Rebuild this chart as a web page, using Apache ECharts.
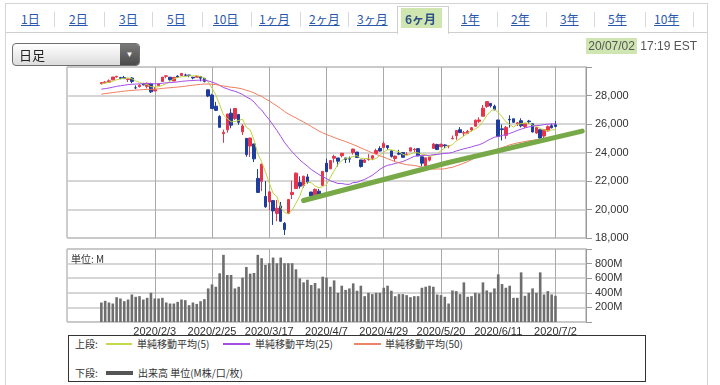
<!DOCTYPE html>
<html><head><meta charset="utf-8">
<script src="https://cdn.jsdelivr.net/npm/echarts@6/dist/echarts.min.js"></script>
<style>
html,body{margin:0;padding:0;background:#fff;}
body{width:720px;height:385px;position:relative;overflow:hidden;font-family:"Liberation Sans",Arial,"Noto Sans CJK JP",sans-serif;}
#chart{position:absolute;left:0;top:0;width:720px;height:385px;z-index:1;}
.ov{position:absolute;z-index:2;}
#outer{position:absolute;left:5px;top:3px;width:701px;height:400px;border:1px solid #d4d4d4;z-index:0;}
#tabline{position:absolute;left:5px;top:32px;width:702px;height:0;border-top:1px solid #cfcfcf;z-index:0;}
.tab{position:absolute;top:11px;line-height:16px;font-size:12px;color:#2858ad;text-decoration:underline;font-family:"Noto Sans CJK JP",sans-serif;white-space:nowrap;}
.sep{position:absolute;top:12px;width:0;height:15px;border-left:1px solid #d8d8d8;}
#sel{position:absolute;left:397px;top:6px;width:50px;height:27px;background:#fff;border:1px solid #d0d0d0;border-bottom:none;z-index:1;}
#selhl{position:absolute;left:401px;top:8px;width:41px;height:20px;background:#cfe6b0;z-index:1;}
#dd{position:absolute;left:12px;top:43px;width:126px;height:21px;border:1px solid #6f6f6f;border-radius:4px;background:linear-gradient(#ffffff,#dcdcdc);overflow:hidden;z-index:2;}
#ddtxt{position:absolute;left:6px;top:0;line-height:21px;font-size:13px;color:#222;font-family:"Noto Sans CJK JP",sans-serif;}
#ddbtn{position:absolute;right:0;top:0;width:19px;height:21px;background:linear-gradient(#7a7a7a,#4a4a4a);color:#fff;font-size:8px;line-height:21px;text-align:center;}
#date{position:absolute;right:23px;top:38px;font-size:12px;color:#555;line-height:16px;white-space:nowrap;z-index:2;}
#date span{background:#cfe6b2;padding:1px 2px;}
#unit{position:absolute;left:71px;top:251px;font-size:10px;color:#333;font-family:"Noto Sans CJK JP",sans-serif;z-index:2;}
#legend{position:absolute;left:68px;top:335px;width:576px;height:45px;border:1px solid #333;background:#fff;z-index:2;font-family:"Noto Sans CJK JP",sans-serif;font-size:10px;color:#333;}
.lt{position:absolute;line-height:14px;white-space:nowrap;}
.ll{position:absolute;height:2px;}
</style></head>
<body>
<div id="outer"></div>
<div id="tabline"></div>
<div id="sel"></div>
<div id="selhl"></div>
<div id="tabs"></div>
<div id="dd"><div id="ddtxt">日足</div><div id="ddbtn">▼</div></div>
<div id="date"><span>20/07/02</span> 17:19 EST</div>
<div id="chart"></div>
<div id="unit">単位: M</div>
<div id="legend">
  <span class="lt" style="left:6px;top:1px">上段:</span>
  <span class="ll" style="left:37px;top:7px;width:26px;background:#c6d84e"></span>
  <span class="lt" style="left:68px;top:1px">単純移動平均(5)</span>
  <span class="ll" style="left:154px;top:7px;width:27px;background:#a64de6"></span>
  <span class="lt" style="left:186px;top:1px">単純移動平均(25)</span>
  <span class="ll" style="left:285px;top:7px;width:27px;background:#ef8466"></span>
  <span class="lt" style="left:316px;top:1px">単純移動平均(50)</span>
  <span class="lt" style="left:6px;top:30px">下段:</span>
  <span class="ll" style="left:37px;top:35px;width:27px;height:4px;background:#555"></span>
  <span class="lt" style="left:69px;top:30px">出来高 単位(M株/口/枚)</span>
</div>
<script>
// ---------- data ----------
const tabNames = ['1日','2日','3日','5日','10日','1ヶ月','2ヶ月','3ヶ月','6ヶ月','1年','2年','3年','5年','10年'];
const dates = [
'2020/1/13','2020/1/14','2020/1/15','2020/1/16','2020/1/17','2020/1/21','2020/1/22','2020/1/23','2020/1/24','2020/1/27','2020/1/28','2020/1/29','2020/1/30','2020/1/31',
'2020/2/3','2020/2/4','2020/2/5','2020/2/6','2020/2/7','2020/2/10','2020/2/11','2020/2/12','2020/2/13','2020/2/14','2020/2/18','2020/2/19','2020/2/20','2020/2/21','2020/2/24','2020/2/25','2020/2/26','2020/2/27','2020/2/28',
'2020/3/2','2020/3/3','2020/3/4','2020/3/5','2020/3/6','2020/3/9','2020/3/10','2020/3/11','2020/3/12','2020/3/13','2020/3/16','2020/3/17','2020/3/18','2020/3/19','2020/3/20','2020/3/23','2020/3/24','2020/3/25','2020/3/26','2020/3/27','2020/3/30','2020/3/31',
'2020/4/1','2020/4/2','2020/4/3','2020/4/6','2020/4/7','2020/4/8','2020/4/9','2020/4/13','2020/4/14','2020/4/15','2020/4/16','2020/4/17','2020/4/20','2020/4/21','2020/4/22','2020/4/23','2020/4/24','2020/4/27','2020/4/28','2020/4/29','2020/4/30',
'2020/5/1','2020/5/4','2020/5/5','2020/5/6','2020/5/7','2020/5/8','2020/5/11','2020/5/12','2020/5/13','2020/5/14','2020/5/15','2020/5/18','2020/5/19','2020/5/20','2020/5/21','2020/5/22','2020/5/26','2020/5/27','2020/5/28','2020/5/29',
'2020/6/1','2020/6/2','2020/6/3','2020/6/4','2020/6/5','2020/6/8','2020/6/9','2020/6/10','2020/6/11','2020/6/12','2020/6/15','2020/6/16','2020/6/17','2020/6/18','2020/6/19','2020/6/22','2020/6/23','2020/6/24','2020/6/25','2020/6/26','2020/6/29','2020/6/30',
'2020/7/1','2020/7/2'];
const opens = [28823,28895,28930,29100,29313,29258,29263,29131,29229,28542,28619,28821,28641,28813,
28319,28696,28986,29346,29286,29019,29365,29406,29441,29440,29282,29280,29328,29203,28402,28029,27250,26536,25320,
25590,26762,26383,26671,25457,24992,24453,24604,22184,21974,20917,20528,20623,19726,20253,19028,19722,21051,21468,21898,21678,22287,
21227,20819,21285,21693,23250,22857,23603,23617,23773,23621,23557,23993,24032,23479,23307,23505,23593,23931,24280,24345,24484,
24120,23581,23943,24003,23863,24096,24195,24269,23701,23049,23464,24286,24553,24402,24530,24455,24960,25174,25599,25364,
25343,25586,25845,26185,26544,27232,27447,27251,26282,25659,25204,26326,26367,26014,26231,25816,26210,26018,25366,25601,25153,25513,
25880,25939];
const highs = [28909,29009,29128,29300,29374,29307,29374,29183,29289,28707,28788,28892,28900,28891,
28592,28833,29298,29408,29286,29277,29416,29569,29529,29441,29293,29405,29374,29203,28402,28118,27552,26616,25604,
26706,27084,27091,26671,25994,24992,25020,24604,22838,23186,21999,21300,20639,20668,20532,19122,20704,22020,22595,22327,22378,22481,
21227,21477,21447,22680,23564,23434,23847,23617,23968,23621,23714,24264,24032,23479,23552,23886,23801,24267,24439,24764,24484,
24120,23774,24188,24011,24021,24331,24316,24310,23701,23635,23698,24659,24612,24612,24586,24498,25192,25549,25779,25517,
25584,25778,26308,26474,27338,27581,27447,27355,26282,25965,25859,26611,26367,26142,26401,26025,26289,26018,25745,25601,25596,25902,
26023,26204];
const lows = [28767,28859,28925,29073,29246,29140,29170,28943,28865,28441,28564,28718,28501,28170,
28319,28696,28986,29211,29056,29003,29254,29406,29353,29283,29136,29280,28994,28925,27884,27052,26907,25760,24681,
25391,25706,26281,25943,25226,23706,23690,23328,21154,21286,20116,19959,18917,19180,19122,18214,19722,20737,21427,21469,21522,21813,
20735,20735,20863,21693,22634,22825,23289,23018,23657,23259,23298,23853,23640,22942,23260,23423,23470,23931,24063,24345,24168,
23645,23361,23813,23641,23811,24096,24026,23764,23031,22790,23373,24286,24191,24402,24312,24300,24940,24896,25363,25157,
25294,25479,25845,26076,26544,27137,27159,26989,25082,24843,24950,25744,26072,25860,25763,25708,25999,25402,25299,24971,24973,25473,
25693,25768];
const closes = [28908,28940,29030,29298,29348,29196,29186,29160,28990,28536,28723,28734,28859,28256,
28400,28807,29291,29380,29103,29276,29276,29551,29423,29398,29232,29348,29219,28992,27961,27081,26957,25766,25409,
26703,25917,27091,26121,25865,23851,25018,23553,21200,23185,20189,21237,19899,20087,19174,18592,20704,21200,22552,21637,22327,21917,
20944,21413,21053,22680,22654,23434,23719,23390,23949,23504,23538,24242,23650,23019,23475,23516,23775,24134,24101,24633,24346,
23724,23750,23883,23664,23875,24331,24222,23764,23248,23625,23685,24597,24207,24576,24474,24465,24995,25548,25401,25383,
25475,25742,26270,26282,27111,27572,27272,26990,25128,25606,25763,26290,26120,26080,25871,26025,26156,25445,25745,25016,25595,25813,
25734,25827];
// closes before the displayed range (needed for the 25/50-day averages)
const priorCloses = [27046,
27347,27462,27492,27493,27675,27681,27691,27691,27784,27782,28005,28036,27934,27821,27767,27876,28066,28122,28164,28051,
27783,27503,27650,27678,28015,27909,27881,27911,28132,28135,28235,28268,28240,28377,28455,28551,28516,28621,28645,28462,28538,
28868,28634,28703,28583,28745,28957,28824];
const volumes = [267,290,267,253,340,322,285,308,377,345,354,308,331,400,
322,322,331,267,253,253,276,308,299,230,267,248,285,313,460,515,483,667,920,
644,644,460,483,607,754,662,671,920,874,782,805,883,805,883,805,805,805,722,598,543,579,
506,534,460,621,607,483,570,400,497,440,460,529,428,497,354,400,382,400,400,469,497,
428,354,382,382,368,340,354,354,469,483,497,483,377,368,345,253,432,423,382,543,
345,354,400,391,543,432,405,460,653,520,469,497,331,331,680,359,400,460,400,680,377,423,
377,359];
const tickLabels = ['2020/2/3','2020/2/25','2020/3/17','2020/4/7','2020/4/29','2020/5/20','2020/6/11','2020/7/2'];
// hand-drawn support line: [trading-day index, value]
const trendLine = [[53,20630],[91,23300],[126,25500]];
const maPeriods = [5,25,50];

// ---------- page chrome ----------
const tabLeft = [21,69,119,167,213,259,309,357,405,461,511,560,608,654];
const sepX = [54,104,152,202,251,300,348,497,546,594,645,693];
const tabsEl = document.getElementById('tabs');
tabNames.forEach((t,i)=>{
  const s=document.createElement('span');
  s.className='tab'; s.textContent=t; s.style.left=tabLeft[i]+'px';
  if(t==='6ヶ月'){s.style.textDecoration='none';s.style.fontWeight='bold';s.style.color='#2d4f86';s.style.zIndex=3;}
  tabsEl.appendChild(s);
});
sepX.forEach(x=>{const d=document.createElement('div');d.className='sep';d.style.left=x+'px';tabsEl.appendChild(d);});

// ---------- chart ----------
const padLeft = 9, padRight = 8;
const cats = [];
for(let k=0;k<padLeft;k++) cats.push('L'+k);
dates.forEach(d=>cats.push(d));
for(let k=0;k<padRight;k++) cats.push('R'+k);

const allCloses = priorCloses.concat(closes);
function sma(n){
  return closes.map((c,i)=>{
    const j=i+priorCloses.length; let s=0;
    for(let k=j-n+1;k<=j;k++) s+=allCloses[k];
    return [i+padLeft, Math.round(s/n*10)/10];
  });
}
const candleData = dates.map((d,i)=>[i+padLeft, opens[i], closes[i], lows[i], highs[i]]);
const volData = dates.map((d,i)=>[i+padLeft, volumes[i]]);
const maColors = ['#bfd43c','#a44de6','#ef7d5e'];
const isTick = (idx,val)=>tickLabels.indexOf(val)>=0;

function xAxis(gi, show){
  return {type:'category', gridIndex:gi, data:cats, boundaryGap:false,
    axisLine:{show:false}, axisTick:{show:false},
    axisLabel:{show:show, interval:isTick, color:'#333', fontSize:11, margin:4, fontFamily:'Liberation Sans'},
    splitLine:{show:true, interval:isTick, lineStyle:{color:'#a9a9a9', width:1}}};
}
const chart = echarts.init(document.getElementById('chart'));
chart.setOption({
  animation:false,
  grid:[
    {left:67, top:67, width:519, height:171, show:true, borderColor:'#9a9a9a', borderWidth:1},
    {left:67, top:249, width:519, height:73, show:true, borderColor:'#9a9a9a', borderWidth:1}
  ],
  xAxis:[xAxis(0,false), xAxis(1,true)],
  yAxis:[
    {type:'value', gridIndex:0, position:'right', min:18000, max:30000, interval:2000,
     axisLine:{show:true, lineStyle:{color:'#9a9a9a'}}, axisTick:{show:true, length:6, lineStyle:{color:'#9a9a9a'}},
     axisLabel:{color:'#333', fontSize:11, margin:9, fontFamily:'Liberation Sans', formatter:v=>v>=30000?'':v.toLocaleString('en-US')},
     splitLine:{lineStyle:{color:'#c9c9c9', width:1.5}}},
    {type:'value', gridIndex:1, position:'right', min:0, max:1000, interval:200,
     axisLine:{show:true, lineStyle:{color:'#9a9a9a'}}, axisTick:{show:true, length:6, lineStyle:{color:'#9a9a9a'}},
     axisLabel:{color:'#333', fontSize:11, margin:9, fontFamily:'Liberation Sans', formatter:v=>(v===0||v>=1000)?'':v+'M'},
     splitLine:{lineStyle:{color:'#c9c9c9', width:1.5}}}
  ],
  series:[
    {type:'candlestick', xAxisIndex:0, yAxisIndex:0, data:candleData, encode:{x:0,y:[1,2,3,4]}, barWidth:3,
     itemStyle:{color:'#e8344a', color0:'#1f3d9c', borderColor:'#e8344a', borderColor0:'#1f3d9c', borderWidth:1}},
    ...maPeriods.map((n,k)=>({type:'line', xAxisIndex:0, yAxisIndex:0, data:sma(n), showSymbol:false, symbol:'none',
      lineStyle:{color:maColors[k], width:1}, z:3})),
    {type:'line', xAxisIndex:0, yAxisIndex:0, data:trendLine.map(p=>[p[0]+padLeft,p[1]]), symbol:'none', showSymbol:false,
     lineStyle:{color:'#78a948', width:5, cap:'round', join:'round'}, z:4},
    {type:'bar', xAxisIndex:1, yAxisIndex:1, data:volData, barWidth:2.6, itemStyle:{color:'#6e6e6e'}}
  ]
});
</script>
</body></html>
